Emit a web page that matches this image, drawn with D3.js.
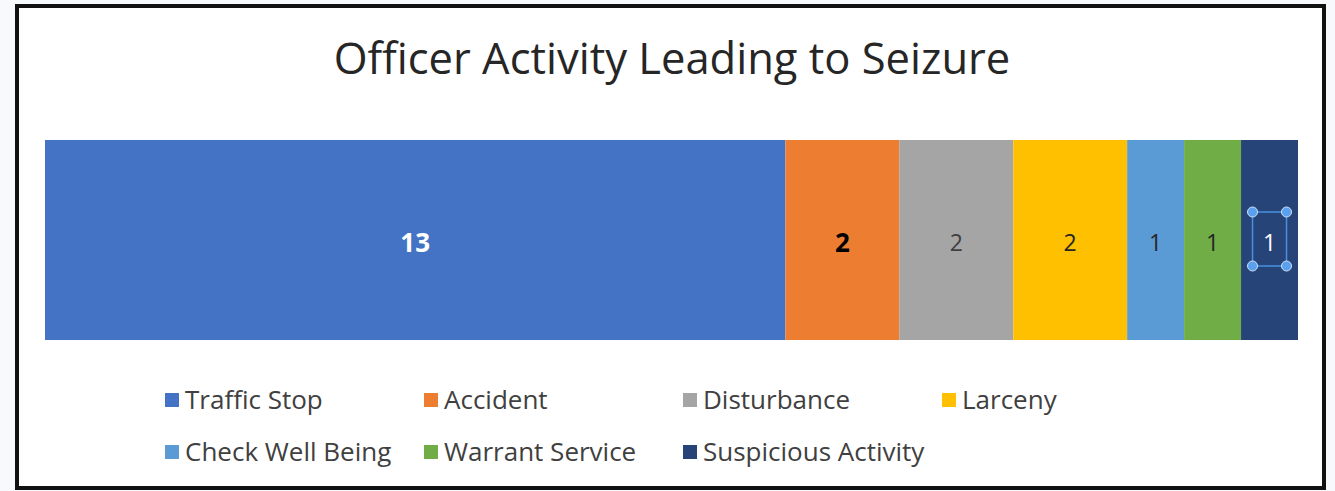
<!DOCTYPE html>
<html>
<head>
<meta charset="utf-8">
<style>
  body { margin: 0; background: #f7f9fd; }
  svg { display: block; font-family: "Open Sans", sans-serif; }
</style>
</head>
<body>
<svg width="1335" height="491"></svg>
<script src="https://d3js.org/d3.v7.min.js"></script>
<script>
var categories = ["Traffic Stop", "Accident", "Disturbance", "Larceny",
                  "Check Well Being", "Warrant Service", "Suspicious Activity"];
var values = [13, 2, 2, 2, 1, 1, 1];
var colors = ["#4472c4", "#ed7d31", "#a5a5a5", "#ffc000", "#5b9bd5", "#70ad47", "#264478"];
var labelColors = ["#ffffff", "#000000", "#404040", "#262626", "#262626", "#262626", "#ffffff"];
var labelBold = [true, true, false, false, false, false, false];

var svg = d3.select("svg");

// chart frame
svg.append("rect")
  .attr("x", 17).attr("y", 6)
  .attr("width", 1307).attr("height", 482)
  .attr("fill", "#fff")
  .attr("stroke", "#111").attr("stroke-width", 4);

svg.append("text")
  .attr("x", 672).attr("y", 74)
  .attr("text-anchor", "middle")
  .style("font-size", "43.5px")
  .attr("fill", "#262626")
  .text("Officer Activity Leading to Seizure");

// stack
var data = [];
var acc = 0;
values.forEach(function(v, i) {
  data.push({ name: categories[i], value: v, x0: acc, x1: acc + v, i: i });
  acc += v;
});

var x = d3.scaleLinear().domain([0, d3.sum(values)]).range([45, 1298]);
var yTop = 140, yBot = 340;

var seg = svg.selectAll(".seg")
  .data(data).enter()
  .append("g").attr("class", "seg");

seg.append("rect")
  .attr("x", function(d) { return x(d.x0); })
  .attr("y", yTop)
  .attr("width", function(d) { return x(d.x1) - x(d.x0); })
  .attr("height", yBot - yTop)
  .attr("fill", function(d) { return colors[d.i]; });

seg.append("text")
  .attr("x", function(d) { return (x(d.x0) + x(d.x1)) / 2; })
  .attr("y", (yTop + yBot) / 2 + 3)
  .attr("dy", "0.36em")
  .attr("text-anchor", "middle")
  .style("font-size", function(d) { return labelBold[d.i] ? "26px" : "23px"; })
  .style("font-weight", function(d) { return labelBold[d.i] ? "bold" : "normal"; })
  .attr("fill", function(d) { return labelColors[d.i]; })
  .text(function(d) { return d.value; });

// selection handles around the last label
var last = data[data.length - 1];
var cx = (x(last.x0) + x(last.x1)) / 2;
var sel = svg.append("g");
sel.append("rect")
  .attr("x", cx - 17).attr("y", 212)
  .attr("width", 34).attr("height", 54)
  .attr("fill", "none")
  .attr("stroke", "#4a90e2").attr("stroke-width", 1.5);
[[cx - 17, 212], [cx + 17, 212], [cx - 17, 266], [cx + 17, 266]].forEach(function(p) {
  sel.append("circle")
    .attr("cx", p[0]).attr("cy", p[1]).attr("r", 5)
    .attr("fill", "#5aa0ee").attr("stroke", "#cfe3fa").attr("stroke-width", 1);
});

// legend
var legend = svg.selectAll(".legend")
  .data(categories).enter()
  .append("g")
  .attr("class", "legend")
  .attr("transform", function(d, i) {
    return "translate(" + (165 + (i % 4) * 259) + "," + (400 + Math.floor(i / 4) * 52) + ")";
  });

legend.append("rect")
  .attr("x", 0).attr("y", -7)
  .attr("width", 14).attr("height", 14)
  .attr("fill", function(d, i) { return colors[i]; });

legend.append("text")
  .attr("x", 20)
  .attr("dy", "0.36em")
  .style("font-size", "26px")
  .attr("fill", "#404040")
  .text(function(d) { return d; });
</script>
</body>
</html>
